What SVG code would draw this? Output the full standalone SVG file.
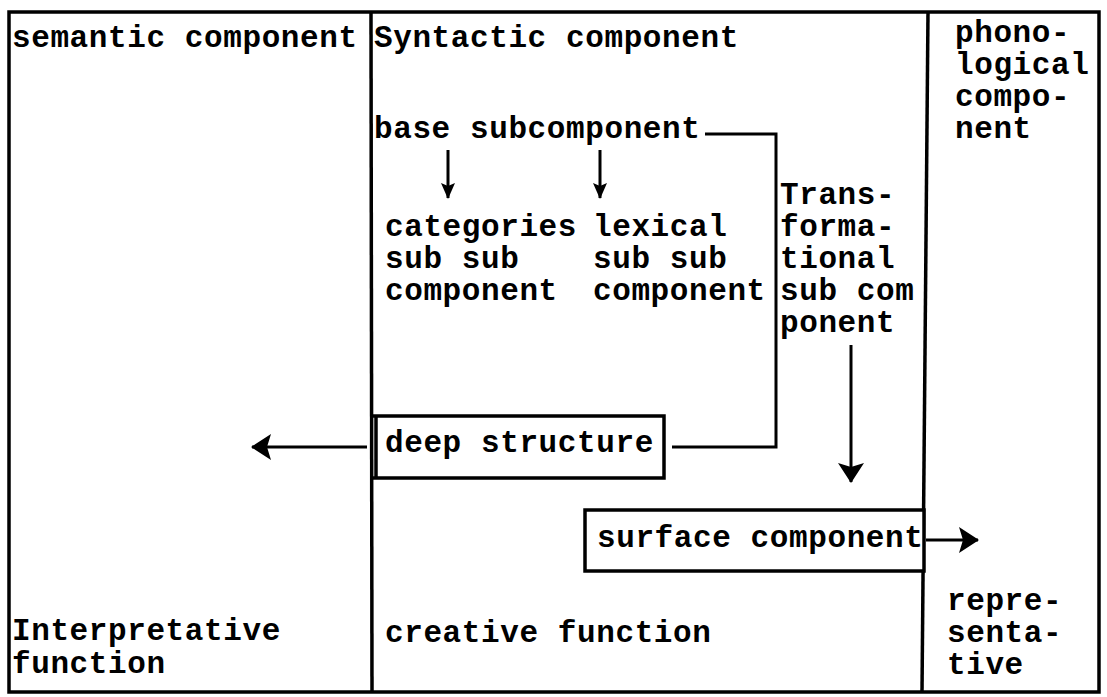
<svg xmlns="http://www.w3.org/2000/svg" width="1107" height="697" viewBox="0 0 1107 697">
<style>
.t{font-family:"Liberation Mono","Courier New",monospace;font-weight:bold;font-size:31px;letter-spacing:0.6px;fill:#000}
.ln{stroke:#000;stroke-width:3.5;fill:none}
.bx{stroke:#000;stroke-width:3.5;fill:#fff}
.c{stroke:#000;stroke-width:3;fill:none}
</style>
<defs>
<marker id="ah" markerWidth="16" markerHeight="14" refX="15" refY="7" orient="auto" markerUnits="userSpaceOnUse" viewBox="0 0 16 14">
<path d="M0,0 L16,7 L0,14 L3,7 Z" fill="#000"/>
</marker>
<marker id="ahb" markerWidth="20" markerHeight="26" refX="19" refY="13" orient="auto" markerUnits="userSpaceOnUse" viewBox="0 0 20 26">
<path d="M0,0 L20,13 L0,26 L4,13 Z" fill="#000"/>
</marker>
</defs>
<rect width="1107" height="697" fill="#fff"/>
<g id="frame">
<rect class="ln" x="9" y="12" width="1090" height="680"/>
<line class="ln" x1="371" y1="12" x2="372" y2="692"/>
<line class="ln" x1="928" y1="12" x2="922" y2="692"/>
</g>
<g id="semantic">
<text class="t" x="12" y="47">semantic component</text>
<text class="t" x="12" y="640">Interpretative</text>
<text class="t" x="12" y="673">function</text>
</g>
<g id="syntactic">
<text class="t" x="374" y="47">Syntactic component</text>
<text class="t" x="385" y="642">creative function</text>
</g>
<g id="phonological">
<text class="t" x="955" y="42">phono-</text>
<text class="t" x="955" y="74">logical</text>
<text class="t" x="955" y="106">compo-</text>
<text class="t" x="955" y="138">nent</text>
<text class="t" x="947" y="610">repre-</text>
<text class="t" x="947" y="642">senta-</text>
<text class="t" x="947" y="674">tive</text>
</g>
<g id="base">
<text class="t" x="374" y="138">base subcomponent</text>
</g>
<g id="categories">
<text class="t" x="385" y="236">categories</text>
<text class="t" x="385" y="268">sub sub</text>
<text class="t" x="385" y="300">component</text>
</g>
<g id="lexical">
<text class="t" x="593" y="236">lexical</text>
<text class="t" x="593" y="268">sub sub</text>
<text class="t" x="593" y="300">component</text>
</g>
<g id="transformational">
<text class="t" x="780" y="204">Trans-</text>
<text class="t" x="780" y="236">forma-</text>
<text class="t" x="780" y="268">tional</text>
<text class="t" x="780" y="300">sub com</text>
<text class="t" x="780" y="332">ponent</text>
</g>
<g id="deep">
<path class="ln" d="M373,416 H664 V478 H373"/>
<line class="ln" x1="376" y1="416" x2="376" y2="478"/>
<text class="t" x="385" y="452">deep structure</text>
</g>
<g id="surface">
<rect class="bx" x="585" y="510" width="339" height="61"/>
<text class="t" x="597" y="547">surface component</text>
</g>
<g id="connectors">
<path class="c" d="M705,134 H776 V447 H672"/>
<line class="c" x1="448" y1="150" x2="448" y2="198" marker-end="url(#ah)"/>
<line class="c" x1="600" y1="150" x2="600" y2="198" marker-end="url(#ah)"/>
<line class="c" x1="851" y1="345" x2="851" y2="482" marker-end="url(#ahb)"/>
<line class="c" x1="367" y1="447" x2="252" y2="447" marker-end="url(#ahb)"/>
<line class="c" x1="926" y1="540" x2="978" y2="540" marker-end="url(#ahb)"/>
</g>
</svg>
